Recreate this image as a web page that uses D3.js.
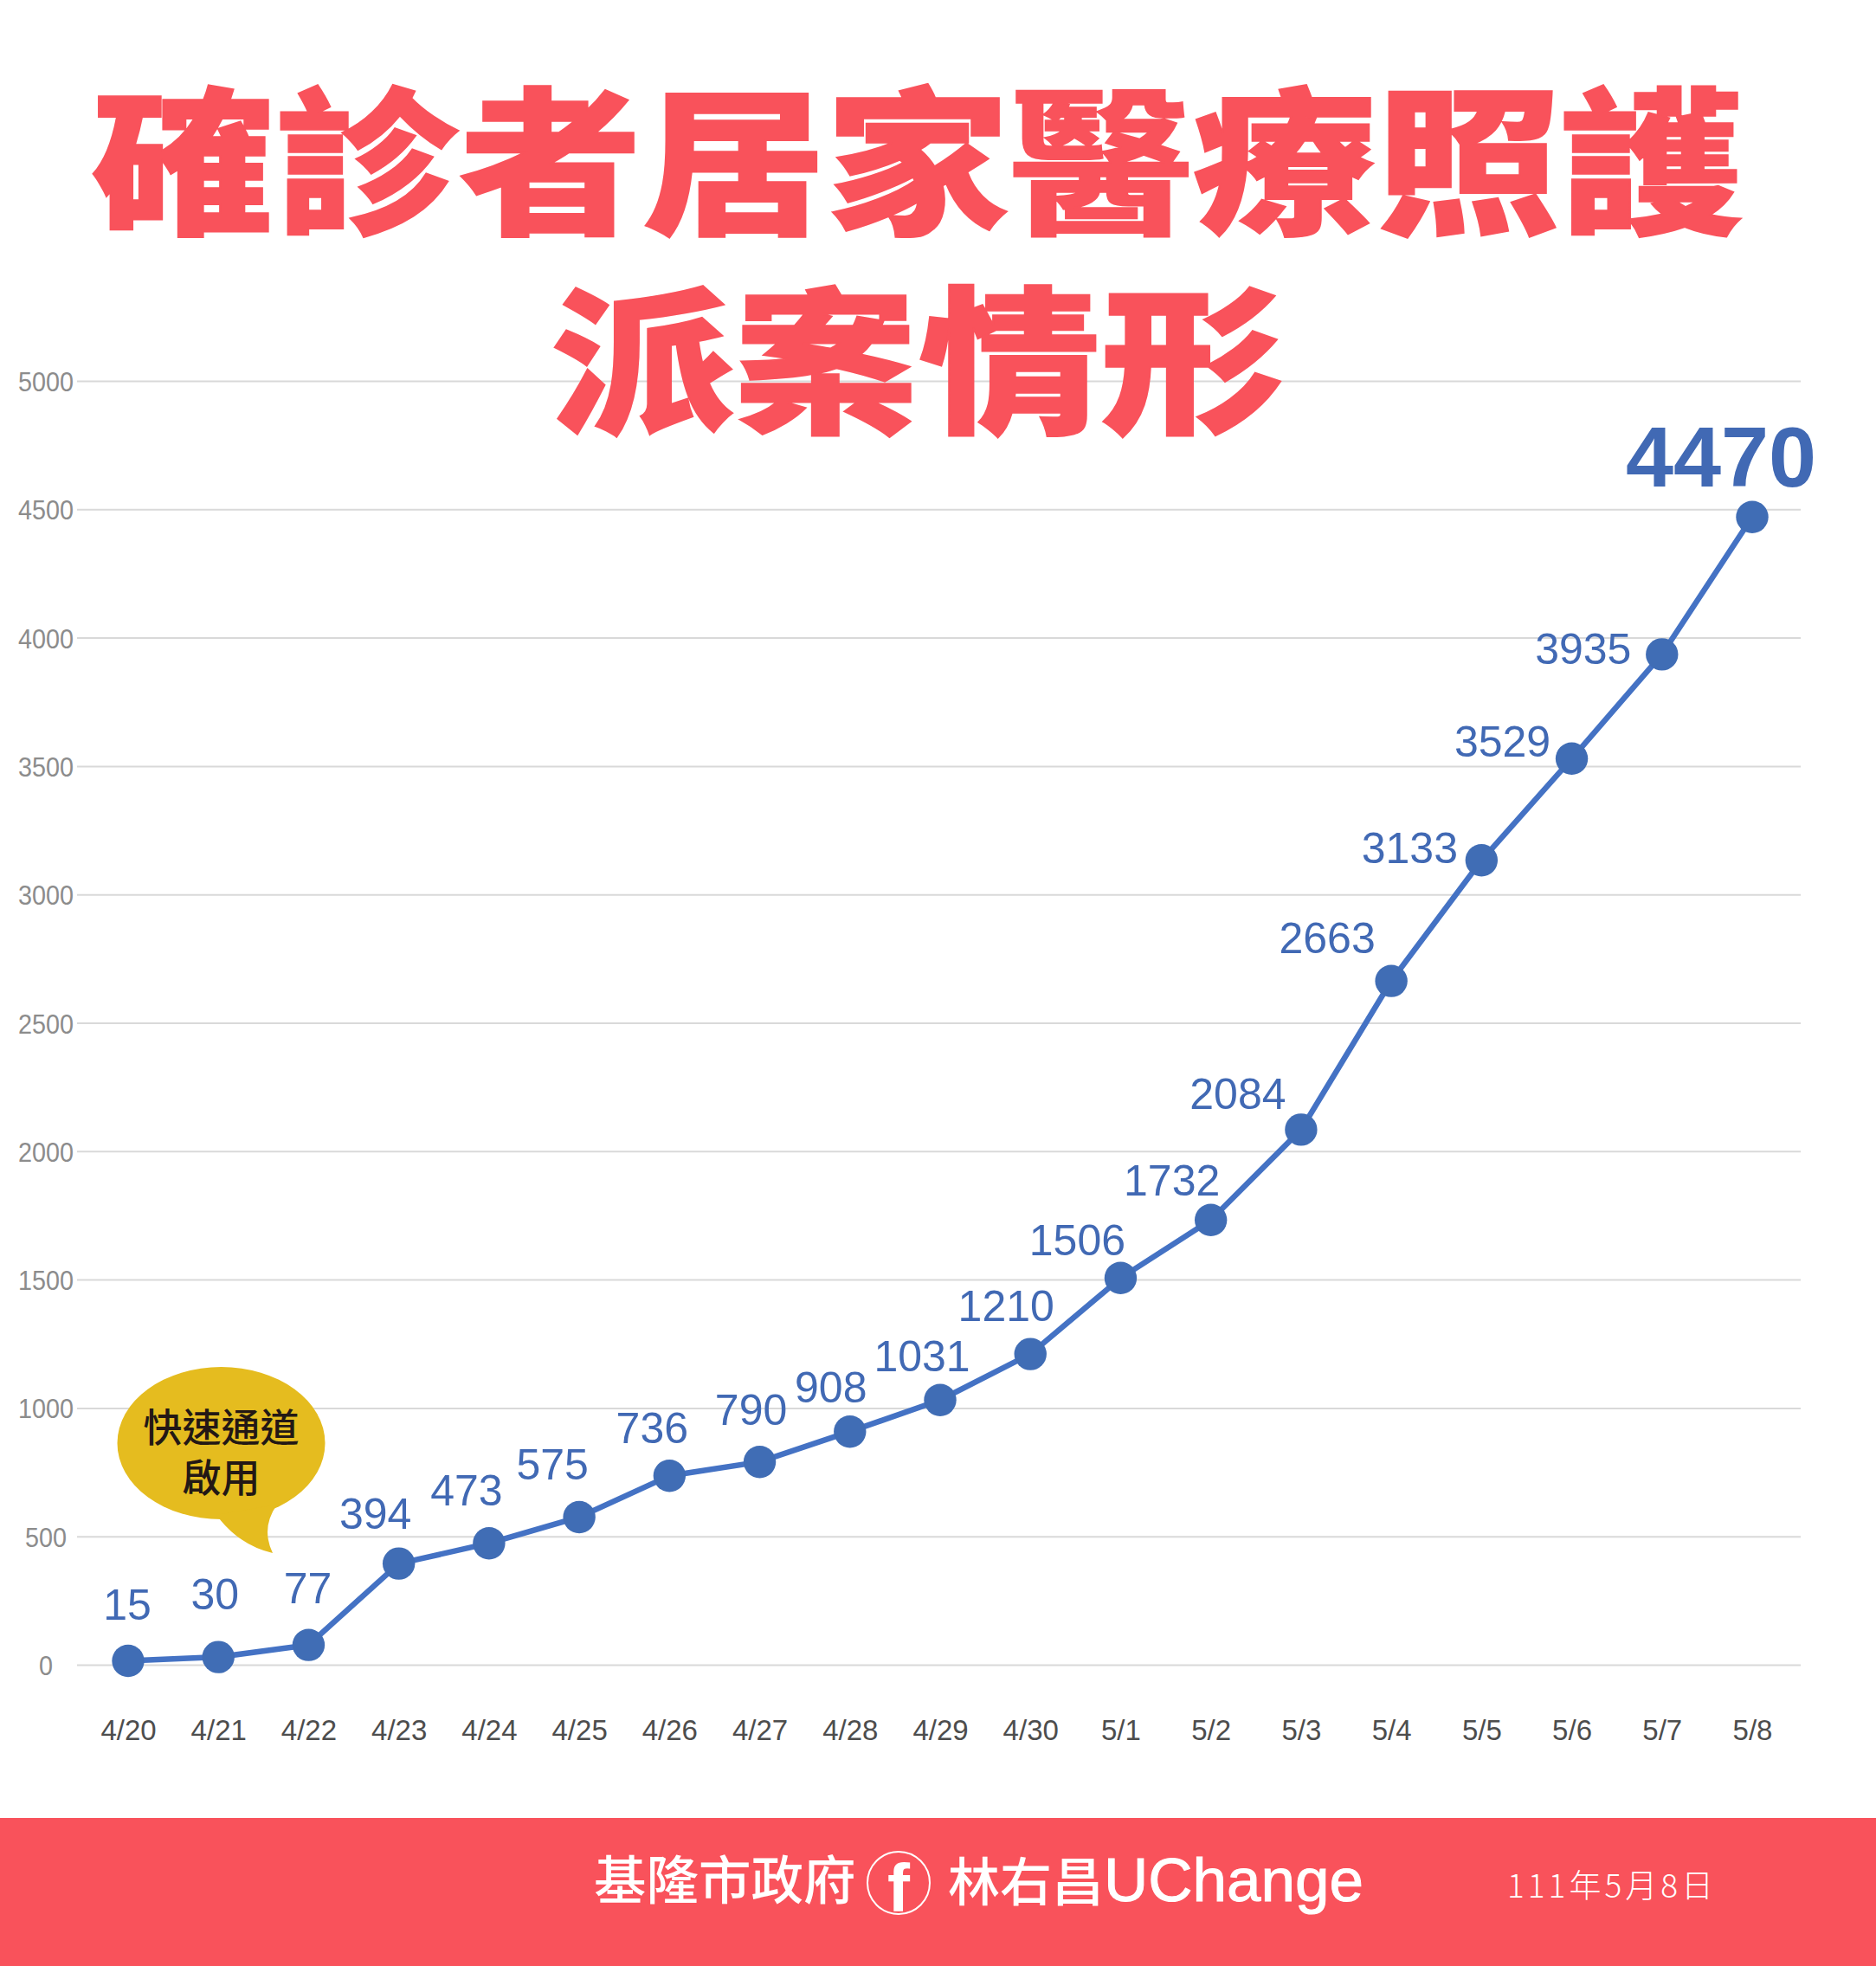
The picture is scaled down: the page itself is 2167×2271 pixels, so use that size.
<!DOCTYPE html>
<html>
<head>
<meta charset="utf-8">
<script src="https://cdn.jsdelivr.net/npm/d3@7"></script>
<style>
  html, body { margin: 0; padding: 0; background: #fff; }
  svg { display: block; }
  text { font-family: "Liberation Sans", Arial, sans-serif; }
  .cjk { font-family: "Noto Sans CJK TC", sans-serif; }
</style>
</head>
<body>
<div id="chart"></div>
<script>
const width = 2167;
const height = 2271;

// data
const dates = ["4/20", "4/21", "4/22", "4/23", "4/24", "4/25", "4/26", "4/27", "4/28", "4/29",
  "4/30", "5/1", "5/2", "5/3", "5/4", "5/5", "5/6", "5/7", "5/8"];
const cases = [15, 30, 77, 394, 473, 575, 736, 790, 908, 1031,
  1210, 1506, 1732, 2084, 2663, 3133, 3529, 3935, 4470];
const yTicks = [0, 500, 1000, 1500, 2000, 2500, 3000, 3500, 4000, 4500, 5000];
const titleLines = ["確診者居家醫療照護", "派案情形"];

// label offsets from the point, nudged by hand so they clear the line
const labelOffsets = [[-1, -66], [-4, -73], [-1, -66], [-27, -58], [-26, -62], [-31, -61], [-20, -56],
  [-10, -61], [-22, -52], [-21, -51], [-28, -56], [-50, -44], [-45, -46], [-73, -42], [-74, -50],
  [-83, -15], [-80, -20], [-91, -7], [-36, -70]];

const RED = "#f9525b";
const BLUE = "#4472c4";

const svg = d3.select("#chart").append("svg")
  .attr("width", width)
  .attr("height", height)
  .attr("viewBox", [0, 0, width, height]);

const x = d3.scalePoint().domain(dates).range([148, 2024]);
const y = d3.scaleLinear().domain([0, 5000]).range([1923, 440]);

// y axis, ticks double as gridlines
const yAxis = svg.append("g")
  .attr("transform", "translate(2080,0)")
  .call(d3.axisLeft(y).tickValues(yTicks).tickSize(1991).tickFormat(d3.format("d")));
yAxis.select(".domain").remove();
yAxis.selectAll("line").attr("stroke", "#d9d9d9").attr("stroke-width", 2);
yAxis.selectAll("text")
  .attr("x", -2027)
  .attr("dy", "0.36em")
  .attr("text-anchor", "middle")
  .attr("font-size", 32)
  .attr("font-family", "'Liberation Sans', Arial, sans-serif")
  .attr("fill", "#8c8c8c")
  .attr("textLength", d => String(d).length * 16)
  .attr("lengthAdjust", "spacingAndGlyphs");

// x axis
const xAxis = svg.append("g")
  .attr("transform", "translate(0,1979)")
  .call(d3.axisBottom(x).tickSize(0).tickPadding(0));
xAxis.select(".domain").remove();
xAxis.selectAll("text")
  .attr("y", 31)
  .attr("dy", 0)
  .attr("font-size", 33)
  .attr("font-family", "'Liberation Sans', Arial, sans-serif")
  .attr("fill", "#4d4d4d");

// title, the original lettering is squashed a bit vertically
svg.append("g").selectAll("text")
  .data(titleLines)
  .join("text")
  .attr("class", "cjk")
  .attr("transform", (d, i) => `translate(1060,${256 + i * 230}) scale(1,0.865)`)
  .attr("text-anchor", "middle")
  .attr("font-size", 212)
  .attr("font-weight", 900)
  .attr("fill", RED)
  .attr("stroke", RED)
  .attr("stroke-width", 2)
  .text(d => d);

// speech bubble
const bubble = svg.append("g");
bubble.append("ellipse")
  .attr("cx", 255.5).attr("cy", 1667)
  .attr("rx", 120).attr("ry", 88)
  .attr("fill", "#e5bc1f");
bubble.append("path")
  .attr("d", "M250,1750 Q276,1785 315,1794 Q301,1765 320,1738 Z")
  .attr("fill", "#e5bc1f");
bubble.selectAll("text")
  .data(["快速通道", "啟用"])
  .join("text")
  .attr("class", "cjk")
  .attr("x", 255.5)
  .attr("y", (d, i) => 1666 + i * 58)
  .attr("text-anchor", "middle")
  .attr("font-size", 45)
  .attr("font-weight", 500)
  .attr("fill", "#231815")
  .text(d => d);

// line and points
const line = d3.line().x((d, i) => x(dates[i])).y(d => y(d));
svg.append("path")
  .datum(cases)
  .attr("d", line)
  .attr("fill", "none")
  .attr("stroke", BLUE)
  .attr("stroke-width", 6.5);

svg.append("g").selectAll("circle")
  .data(cases)
  .join("circle")
  .attr("cx", (d, i) => x(dates[i]))
  .attr("cy", d => y(d))
  .attr("r", 18.7)
  .attr("fill", "#406db5");

// value labels, last one is big and bold
const lastIndex = cases.length - 1;
svg.append("g").selectAll("text")
  .data(cases)
  .join("text")
  .attr("x", (d, i) => x(dates[i]) + labelOffsets[i][0])
  .attr("y", (d, i) => y(d) + labelOffsets[i][1] + (i === lastIndex ? 35 : 18))
  .attr("text-anchor", "middle")
  .attr("font-size", (d, i) => i === lastIndex ? 99 : 50)
  .attr("font-weight", (d, i) => i === lastIndex ? 700 : 400)
  .attr("fill", "#4169b4")
  .text(d => d);

// footer
svg.append("rect")
  .attr("x", 0).attr("y", 2100)
  .attr("width", width).attr("height", 171)
  .attr("fill", RED);

svg.append("text")
  .attr("class", "cjk")
  .attr("x", 686).attr("y", 2194)
  .attr("font-size", 60.5)
  .attr("font-weight", 500)
  .attr("fill", "#fff")
  .text("基隆市政府");

svg.append("circle")
  .attr("cx", 1038).attr("cy", 2175).attr("r", 36)
  .attr("fill", "none")
  .attr("stroke", "#fff")
  .attr("stroke-width", 2);
svg.append("text")
  .attr("x", 1038).attr("y", 2208)
  .attr("text-anchor", "middle")
  .attr("font-size", 78)
  .attr("font-weight", 700)
  .attr("fill", "#fff")
  .text("f");

const owner = svg.append("text")
  .attr("x", 1095).attr("y", 2196)
  .attr("fill", "#fff");
owner.append("tspan")
  .attr("class", "cjk")
  .attr("font-size", 60)
  .attr("font-weight", 500)
  .text("林右昌");
owner.append("tspan")
  .attr("font-size", 71)
  .attr("stroke", "#fff")
  .attr("stroke-width", 1)
  .text("UChange");

svg.append("text")
  .attr("class", "cjk")
  .attr("x", 1741).attr("y", 2192)
  .attr("font-size", 37)
  .attr("font-weight", 300)
  .attr("fill", "#fff")
  .attr("textLength", 238)
  .text("111年5月8日");
</script>
</body>
</html>
